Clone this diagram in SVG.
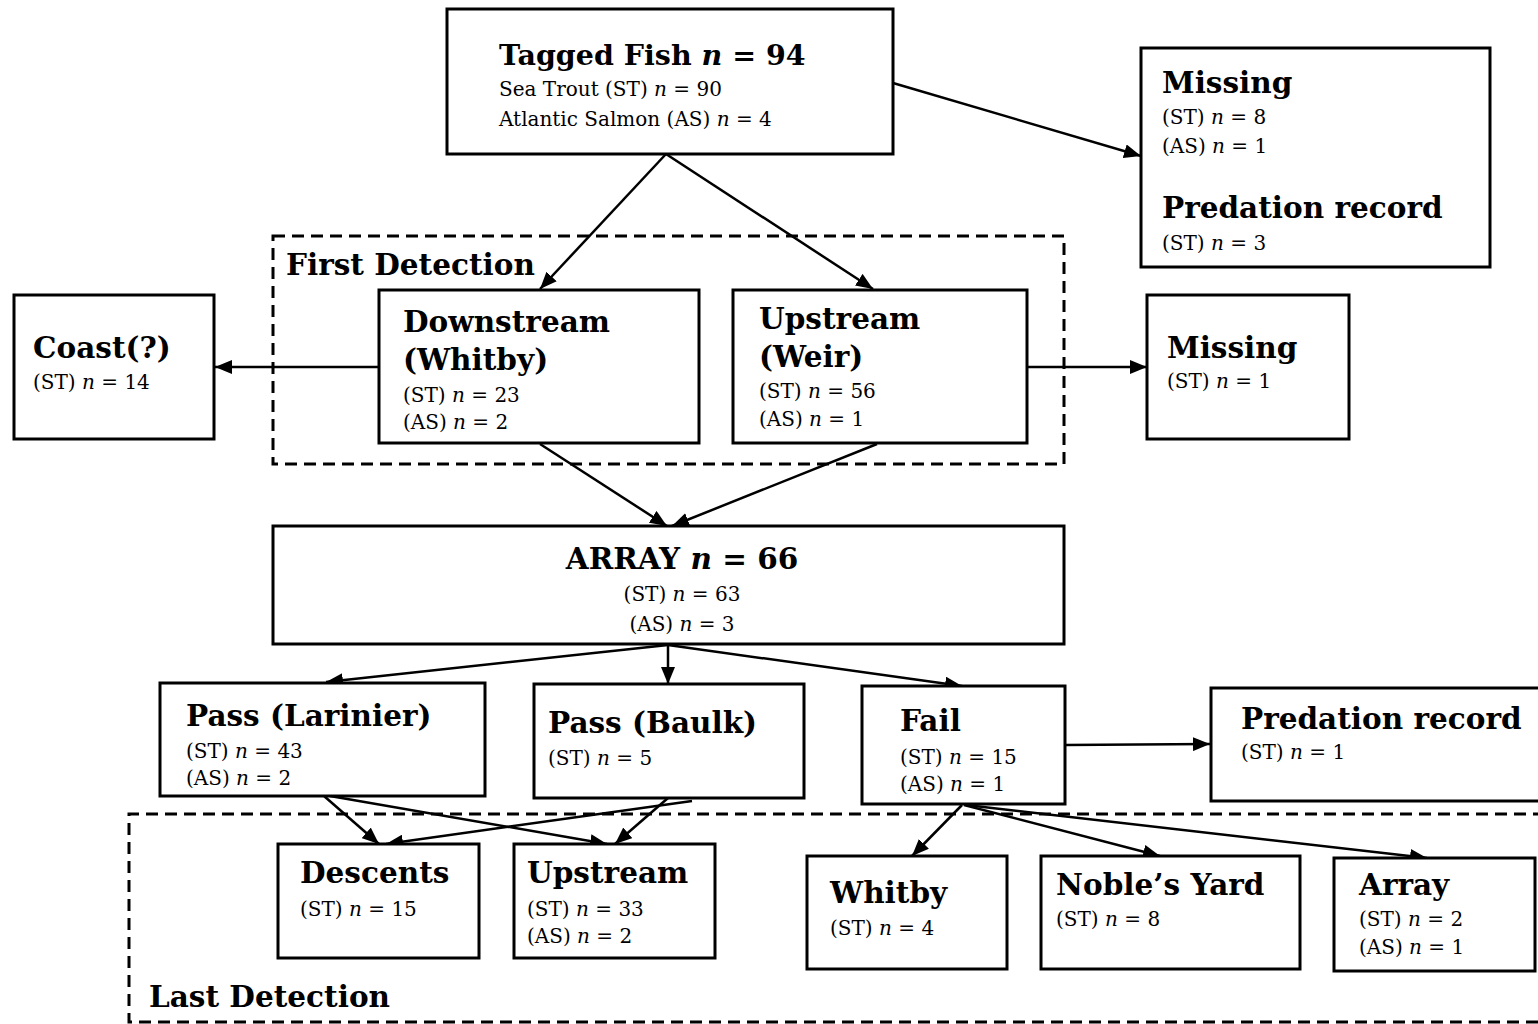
<svg xmlns="http://www.w3.org/2000/svg" width="1538" height="1024" viewBox="0 0 1538 1024">
<style>
.box{fill:#fff;stroke:#000;stroke-width:3}
.grp{fill:none;stroke:#000;stroke-width:3;stroke-dasharray:12 7}
.t{font-family:"DejaVu Serif","Liberation Serif",serif;font-weight:bold;font-size:29.5px;fill:#000}
.s{font-family:"DejaVu Serif","Liberation Serif",serif;font-size:20px;fill:#000}
.c{text-anchor:middle}
.i{font-style:italic}
.conn line{stroke:#000;stroke-width:2.5;marker-end:url(#ah)}
</style>
<defs>
<marker id="ah" markerUnits="userSpaceOnUse" markerWidth="17" markerHeight="14" refX="17" refY="7" orient="auto">
<path d="M0,0 L17,7 L0,14 z" fill="#000"/>
</marker>
</defs>
<rect width="1538" height="1024" fill="#fff"/>

<g id="first-detection">
<rect class="grp" x="273" y="236" width="791" height="228"/>
<text class="t" x="286" y="275">First Detection</text>
</g>
<g id="last-detection">
<path class="grp" d="M1545,814 H129 V1022 H1545"/>
<text class="t" x="149" y="1007">Last Detection</text>
</g>

<g id="connectors" class="conn">
<line x1="893" y1="83" x2="1141" y2="156"/>
<line x1="666" y1="154" x2="540" y2="289"/>
<line x1="666" y1="154" x2="873" y2="289"/>
<line x1="378" y1="367" x2="215" y2="367"/>
<line x1="1027" y1="367" x2="1147" y2="367"/>
<line x1="540" y1="444" x2="667" y2="526"/>
<line x1="877" y1="444" x2="672" y2="526"/>
<line x1="668" y1="645" x2="326" y2="682"/>
<line x1="668" y1="645" x2="668" y2="684"/>
<line x1="668" y1="645" x2="962" y2="686"/>
<line x1="1065" y1="745" x2="1210" y2="744"/>
<line x1="324" y1="796" x2="379" y2="844"/>
<line x1="330" y1="796" x2="607" y2="844"/>
<line x1="692" y1="801" x2="386" y2="844"/>
<line x1="668" y1="798" x2="615" y2="844"/>
<line x1="962" y1="805" x2="912" y2="856"/>
<line x1="964" y1="805" x2="1160" y2="856"/>
<line x1="966" y1="805" x2="1427" y2="858"/>
</g>

<g id="tagged-fish">
<rect class="box" x="447" y="9" width="446" height="145"/>
<text class="t" x="499" y="65" style="font-size:28.5px">Tagged Fish <tspan class="i">n</tspan> = 94</text>
<text class="s" x="499" y="96">Sea Trout (ST) <tspan class="i">n</tspan> = 90</text>
<text class="s" x="499" y="126">Atlantic Salmon (AS) <tspan class="i">n</tspan> = 4</text>
</g>
<g id="missing-top">
<rect class="box" x="1141" y="48" width="349" height="219"/>
<text class="t" x="1162" y="93">Missing</text>
<text class="s" x="1162" y="124">(ST) <tspan class="i">n</tspan> = 8</text>
<text class="s" x="1162" y="153">(AS) <tspan class="i">n</tspan> = 1</text>
<text class="t" x="1162" y="218">Predation record</text>
<text class="s" x="1162" y="250">(ST) <tspan class="i">n</tspan> = 3</text>
</g>
<g id="coast">
<rect class="box" x="14" y="295" width="200" height="144"/>
<text class="t" x="33" y="358">Coast(?)</text>
<text class="s" x="33" y="389">(ST) <tspan class="i">n</tspan> = 14</text>
</g>
<g id="downstream">
<rect class="box" x="379" y="290" width="320" height="153"/>
<text class="t" x="403" y="332">Downstream</text>
<text class="t" x="403" y="370">(Whitby)</text>
<text class="s" x="403" y="402">(ST) <tspan class="i">n</tspan> = 23</text>
<text class="s" x="403" y="429">(AS) <tspan class="i">n</tspan> = 2</text>
</g>
<g id="upstream-weir">
<rect class="box" x="733" y="290" width="294" height="153"/>
<text class="t" x="759" y="329">Upstream</text>
<text class="t" x="759" y="367">(Weir)</text>
<text class="s" x="759" y="398">(ST) <tspan class="i">n</tspan> = 56</text>
<text class="s" x="759" y="426">(AS) <tspan class="i">n</tspan> = 1</text>
</g>
<g id="missing-mid">
<rect class="box" x="1147" y="295" width="202" height="144"/>
<text class="t" x="1167" y="358">Missing</text>
<text class="s" x="1167" y="388">(ST) <tspan class="i">n</tspan> = 1</text>
</g>
<g id="array">
<rect class="box" x="273" y="526" width="791" height="118"/>
<text class="t c" x="682" y="569">ARRAY <tspan class="i">n</tspan> = 66</text>
<text class="s c" x="682" y="601">(ST) <tspan class="i">n</tspan> = 63</text>
<text class="s c" x="682" y="631">(AS) <tspan class="i">n</tspan> = 3</text>
</g>
<g id="pass-larinier">
<rect class="box" x="160" y="683" width="325" height="113"/>
<text class="t" x="186" y="726">Pass (Larinier)</text>
<text class="s" x="186" y="758">(ST) <tspan class="i">n</tspan> = 43</text>
<text class="s" x="186" y="785">(AS) <tspan class="i">n</tspan> = 2</text>
</g>
<g id="pass-baulk">
<rect class="box" x="534" y="684" width="270" height="114"/>
<text class="t" x="548" y="733">Pass (Baulk)</text>
<text class="s" x="548" y="765">(ST) <tspan class="i">n</tspan> = 5</text>
</g>
<g id="fail">
<rect class="box" x="862" y="686" width="203" height="118"/>
<text class="t" x="900" y="731">Fail</text>
<text class="s" x="900" y="764">(ST) <tspan class="i">n</tspan> = 15</text>
<text class="s" x="900" y="791">(AS) <tspan class="i">n</tspan> = 1</text>
</g>
<g id="predation-mid">
<rect class="box" x="1211" y="688" width="340" height="113"/>
<text class="t" x="1241" y="729">Predation record</text>
<text class="s" x="1241" y="759">(ST) <tspan class="i">n</tspan> = 1</text>
</g>
<g id="descents">
<rect class="box" x="278" y="844" width="201" height="114"/>
<text class="t" x="300" y="883">Descents</text>
<text class="s" x="300" y="916">(ST) <tspan class="i">n</tspan> = 15</text>
</g>
<g id="upstream-last">
<rect class="box" x="514" y="844" width="201" height="114"/>
<text class="t" x="527" y="883">Upstream</text>
<text class="s" x="527" y="916">(ST) <tspan class="i">n</tspan> = 33</text>
<text class="s" x="527" y="943">(AS) <tspan class="i">n</tspan> = 2</text>
</g>
<g id="whitby">
<rect class="box" x="807" y="856" width="200" height="113"/>
<text class="t" x="830" y="903">Whitby</text>
<text class="s" x="830" y="935">(ST) <tspan class="i">n</tspan> = 4</text>
</g>
<g id="nobles-yard">
<rect class="box" x="1041" y="856" width="259" height="113"/>
<text class="t" x="1056" y="895">Noble’s Yard</text>
<text class="s" x="1056" y="926">(ST) <tspan class="i">n</tspan> = 8</text>
</g>
<g id="array-last">
<rect class="box" x="1334" y="858" width="201" height="113"/>
<text class="t" x="1359" y="895">Array</text>
<text class="s" x="1359" y="926">(ST) <tspan class="i">n</tspan> = 2</text>
<text class="s" x="1359" y="954">(AS) <tspan class="i">n</tspan> = 1</text>
</g>
</svg>
